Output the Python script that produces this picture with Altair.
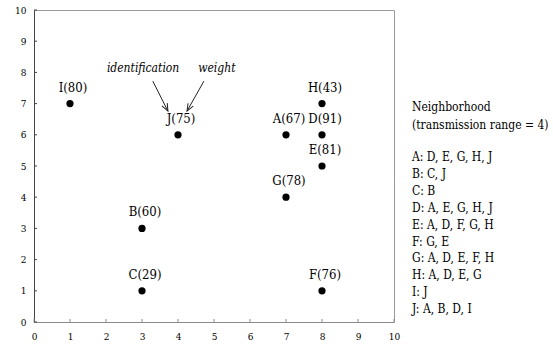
import math
import altair as alt
import pandas as pd

# ---- data ----
node_names = ["A", "B", "C", "D", "E", "F", "G", "H", "I", "J"]
node_x = [7, 3, 3, 8, 8, 8, 7, 8, 1, 4]
node_y = [6, 3, 1, 6, 5, 1, 4, 7, 7, 6]
node_weight = [67, 60, 29, 91, 81, 76, 78, 43, 80, 75]

neighbors = {
    "A": ["D", "E", "G", "H", "J"],
    "B": ["C", "J"],
    "C": ["B"],
    "D": ["A", "E", "G", "H", "J"],
    "E": ["A", "D", "F", "G", "H"],
    "F": ["G", "E"],
    "G": ["A", "D", "E", "F", "H"],
    "H": ["A", "D", "E", "G"],
    "I": ["J"],
    "J": ["A", "B", "D", "I"],
}
legend_title = ["Neighborhood", "(transmission range = 4)"]

annot_text = ["identification", "weight"]
annot_x = [3.03, 5.08]
annot_y = [8.14, 8.14]
arrow_x_start = [3.30, 4.72]
arrow_y_start = [7.72, 7.72]
arrow_x_end = [3.72, 4.25]
arrow_y_end = [6.76, 6.76]

tick_values = list(range(0, 11))

# ---- layout ----
W, H = 360, 312
px_per_x = W / 10.0
px_per_y = H / 10.0
FONT = "DejaVu Serif Condensed"

nodes = pd.DataFrame({
    "name": node_names, "x": node_x, "y": node_y, "w": node_weight,
})
nodes["label"] = [f"{n}({w})" for n, w in zip(node_names, node_weight)]

annots = pd.DataFrame({"t": annot_text, "x": annot_x, "y": annot_y})
arrows = pd.DataFrame({
    "x": arrow_x_start, "y": arrow_y_start,
    "x2": arrow_x_end, "y2": arrow_y_end,
})
arrows["angle"] = [
    (math.degrees(math.atan2((xe - xs) * px_per_x, (ye - ys) * px_per_y)) + 360) % 360
    for xs, ys, xe, ye in zip(arrow_x_start, arrow_y_start, arrow_x_end, arrow_y_end)
]
ticks = pd.DataFrame({"v": tick_values})

list_lines = [f"{k}: {', '.join(v)}" for k, v in neighbors.items()]

xscale = alt.Scale(domain=[0, 10], nice=False, zero=False)
yscale = alt.Scale(domain=[0, 10], nice=False, zero=False)

xaxis = alt.Axis(values=tick_values, grid=False, ticks=False, labelPadding=9,
                 domainColor="#8a8a8a", labelFont=FONT, labelFontSize=10,
                 labelColor="#000", title=None, labelOverlap=False,
                 labelFlush=False)
yaxis = alt.Axis(values=tick_values, grid=False, ticks=False, labelPadding=8,
                 domainColor="#444444", labelFont=FONT, labelFontSize=10,
                 labelColor="#000", title=None, labelOverlap=False,
                 labelFlush=False)

X = alt.X("x:Q", scale=xscale, axis=xaxis)
Y = alt.Y("y:Q", scale=yscale, axis=yaxis)

base = alt.Chart(nodes)

points = base.mark_circle(size=52, color="black", opacity=1).encode(x=X, y=Y)

labels = base.mark_text(font=FONT, fontSize=13, dy=-16, dx=3, color="black").encode(
    x=X, y=Y, text="label:N",
)

annot_layer = alt.Chart(annots).mark_text(
    font=FONT, fontSize=12, fontStyle="italic", color="black"
).encode(x=X, y=Y, text="t:N")

arrow_lines = alt.Chart(arrows).mark_rule(color="#222", strokeWidth=1).encode(
    x=X, y=Y, x2="x2:Q", y2="y2:Q",
)

arrow_heads = alt.Chart(arrows).mark_point(
    shape="M-0.5,1.25L0,0L0.5,1.25", filled=False, stroke="#222",
    strokeWidth=1, size=140, opacity=1,
).encode(
    x=alt.X("x2:Q", scale=xscale, axis=xaxis),
    y=alt.Y("y2:Q", scale=yscale, axis=yaxis),
    angle=alt.Angle("angle:Q", scale=None),
)

xticks = alt.Chart(ticks).mark_rule(color="#8a8a8a").encode(
    x=alt.X("v:Q", scale=xscale, axis=xaxis),
    y=alt.value(H),
    y2=alt.value(H - 3),
)
yticks = alt.Chart(ticks).mark_rule(color="#444444").encode(
    y=alt.Y("v:Q", scale=yscale, axis=yaxis),
    x=alt.value(0),
    x2=alt.value(3),
)

one = alt.Chart(ticks).transform_filter("datum.v == 0")
legend_head = one.mark_text(
    text=legend_title, font=FONT, fontSize=12, align="left", baseline="middle",
    lineHeight=17.5, color="black",
).encode(x=alt.value(378), y=alt.value(97))
legend_list = one.mark_text(
    text=list_lines, font=FONT, fontSize=12, align="left", baseline="middle",
    lineHeight=16.9, color="black",
).encode(x=alt.value(378), y=alt.value(147))

chart = alt.layer(
    xticks, yticks, arrow_lines, arrow_heads, points, labels, annot_layer,
    legend_head, legend_list,
).properties(
    width=W, height=H,
    autosize=alt.AutoSizeParams(type="none"),
    padding={"left": 34, "top": 10, "right": 159, "bottom": 24},
    background="white",
).configure_view(stroke="#9a9a9a", strokeWidth=1)

chart.save("out.html", embed_options={"renderer": "svg", "actions": False})
